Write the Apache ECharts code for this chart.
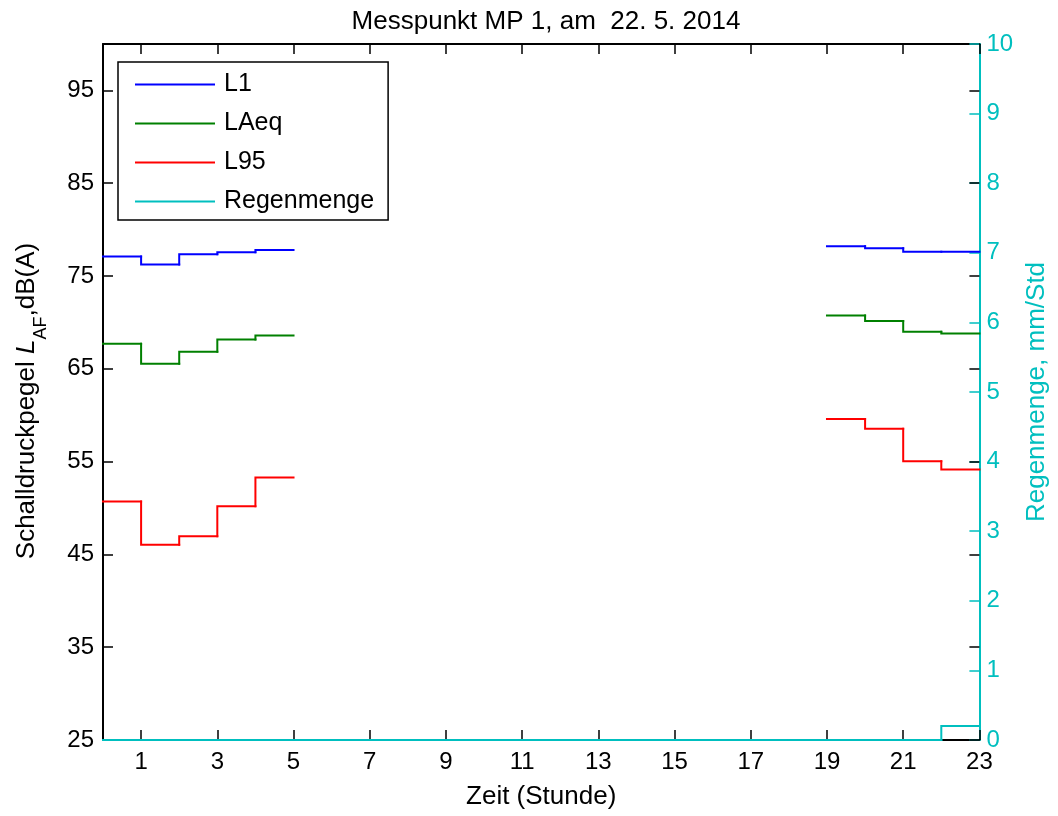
<!DOCTYPE html>
<html><head><meta charset="utf-8">
<script src="https://cdn.jsdelivr.net/npm/echarts@6/dist/echarts.min.js"></script>
<style>html,body{margin:0;padding:0;background:#fff}#c{width:1058px;height:816px}</style>
</head><body><div id="c"></div>
<script>
// hourly values for hours 0..22 (null = no measurement); each value holds from hour h to h+1
const hours = [0,1,2,3,4,5,6,7,8,9,10,11,12,13,14,15,16,17,18,19,20,21,22];
const L1 =   [77.1,76.25,77.35,77.55,77.8,null,null,null,null,null,null,null,null,null,null,null,null,null,null,78.2,78.0,77.6,77.6];
const LAeq = [67.7,65.55,66.85,68.15,68.6,null,null,null,null,null,null,null,null,null,null,null,null,null,null,70.75,70.15,69.0,68.8];
const L95 =  [50.7,46.05,46.95,50.2,53.3,null,null,null,null,null,null,null,null,null,null,null,null,null,null,59.6,58.55,55.05,54.15];
const Regen =[0,0,0,0,0,0,0,0,0,0,0,0,0,0,0,0,0,0,0,0,0,0,0.2];
const xTicks = [1,3,5,7,9,11,13,15,17,19,21,23];
const yTicksL = [25,35,45,55,65,75,85,95];

// data items: [hour, value, previous value]
function stairItems(vals){
  const out=[];
  for(let i=0;i<hours.length;i++){
    if(vals[i]==null) continue;
    out.push([hours[i], vals[i], i>0 && vals[i-1]!=null ? vals[i-1] : null]);
  }
  return out;
}
const font='Liberation Sans, Arial, sans-serif';
const chart=echarts.init(document.getElementById('c'));
function mk(name,vals,color,yi,z){
  return {name:name,type:'custom',coordinateSystem:'cartesian2d',xAxisIndex:0,yAxisIndex:yi,
    data:stairItems(vals),silent:true,animation:false,z:z,clip:false,
    encode:{x:0,y:1},
    itemStyle:{color:color},
    renderItem:function(params,api){
      const h=api.value(0), v=api.value(1), p=api.value(2);
      const pts=[];
      if(p!=null && !isNaN(p)) pts.push(api.coord([h,p]));
      pts.push(api.coord([h,v]));
      pts.push(api.coord([h+1,v]));
      return {type:'polyline',shape:{points:pts},
        style:{stroke:color,lineWidth:2,fill:null,lineJoin:'miter',lineCap:'square'}};
    }};
}
chart.setOption({
  animation:false,
  title:{text:'Messpunkt MP 1, am  22. 5. 2014',left:541,textAlign:'center',top:4,
    textStyle:{fontFamily:font,fontSize:26,fontWeight:'normal',color:'#000'}},
  grid:{left:103,right:78,top:44,bottom:76,containLabel:false},
  legend:{orient:'vertical',left:118,top:62,itemWidth:80,itemHeight:2,itemGap:14,icon:'rect',
    padding:[10,14,6,17],borderColor:'#000',borderWidth:1.5,backgroundColor:'#fff',borderRadius:0,
    textStyle:{fontFamily:font,fontSize:25,color:'#000',padding:[0,0,0,4]},
    data:['L1','LAeq','L95','Regenmenge']},
  xAxis:[{type:'value',min:0,max:23,position:'bottom',
    name:'Zeit (Stunde)',nameLocation:'middle',nameGap:44,
    nameTextStyle:{fontFamily:font,fontSize:26,color:'#000'},
    axisLine:{show:true,onZero:false,lineStyle:{color:'#000',width:2}},
    axisTick:{show:true,inside:true,length:10,customValues:xTicks,lineStyle:{color:'#000',width:1.5}},
    axisLabel:{customValues:xTicks,fontFamily:font,fontSize:24,color:'#000',margin:10},
    splitLine:{show:false}},
   {type:'value',min:0,max:23,position:'top',
    axisLine:{show:true,onZero:false,lineStyle:{color:'#000',width:2}},
    axisTick:{show:true,inside:true,length:10,customValues:xTicks,lineStyle:{color:'#000',width:1.5}},
    axisLabel:{show:false},splitLine:{show:false}}],
  yAxis:[{type:'value',min:25,max:100,position:'left',
    name:'Schalldruckpegel {i|L}{s|AF},dB(A)',nameLocation:'middle',nameGap:63,nameRotate:90,
    nameTextStyle:{fontFamily:font,fontSize:26,color:'#000',padding:[0,18,0,0],
      rich:{i:{fontFamily:font,fontSize:26,fontStyle:'italic',color:'#000'},
            s:{fontFamily:font,fontSize:18,color:'#000',verticalAlign:'bottom',padding:[0,0,-10,0]}}},
    axisLine:{show:true,onZero:false,lineStyle:{color:'#000',width:2}},
    axisTick:{show:true,inside:true,length:10,customValues:yTicksL,lineStyle:{color:'#000',width:1.5}},
    axisLabel:{customValues:yTicksL,fontFamily:font,fontSize:24,color:'#000',margin:9},
    splitLine:{show:false}},
   {type:'value',min:0,max:10,interval:1,position:'right',
    name:'Regenmenge, mm/Std',nameLocation:'middle',nameGap:44,nameRotate:90,
    nameTextStyle:{fontFamily:font,fontSize:26,color:'#00BFBF'},
    axisLine:{show:true,onZero:false,lineStyle:{color:'#00BFBF',width:2}},
    axisTick:{show:true,inside:true,length:10,lineStyle:{color:'#00BFBF',width:1.5}},
    axisLabel:{fontFamily:font,fontSize:24,color:'#00BFBF',margin:7},
    splitLine:{show:false}},
   {type:'value',min:25,max:100,position:'right',
    axisLine:{show:false,onZero:false},
    axisTick:{show:true,inside:true,length:10,customValues:yTicksL,lineStyle:{color:'#000',width:1.5}},
    axisLabel:{show:false},splitLine:{show:false}}],
  series:[mk('L1',L1,'#0000FF',0,5),mk('LAeq',LAeq,'#008000',0,5),mk('L95',L95,'#FF0000',0,5),
    mk('Regenmenge',Regen,'#00BFBF',1,6)]
});
</script></body></html>
